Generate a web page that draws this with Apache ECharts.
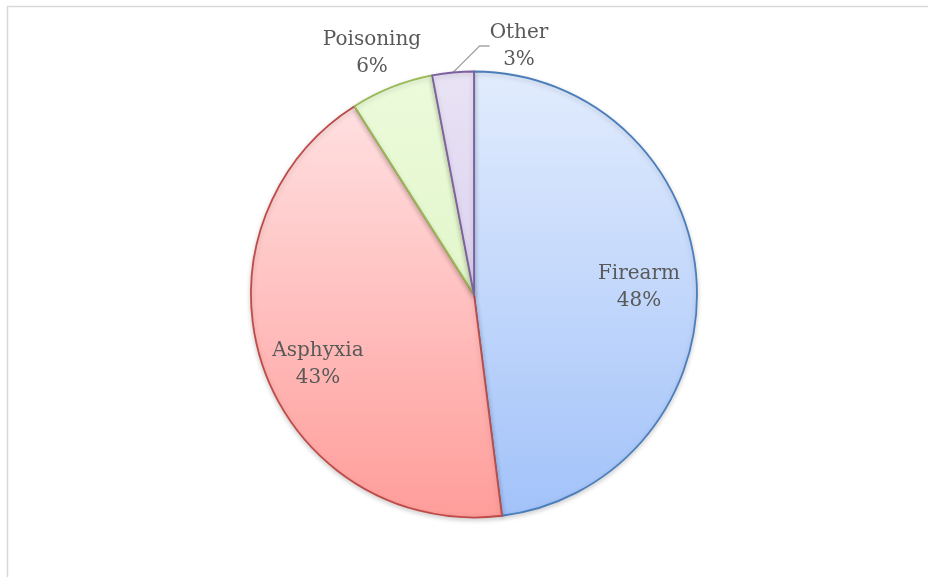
<!DOCTYPE html>
<html>
<head>
<meta charset="utf-8">
<script src="https://cdn.jsdelivr.net/npm/echarts@6/dist/echarts.min.js"></script>
<style>
html,body{margin:0;padding:0;background:#fff;}
#chart{width:928px;height:577px;}
</style>
</head>
<body>
<div id="chart"></div>
<script>
// ---- data ----
const categories = ['Firearm', 'Asphyxia', 'Poisoning', 'Other'];
const values = [48, 43, 6, 3];

// ---- styles ----
const topColors = ['#e2ecfd', '#ffe0e1', '#ecfbdb', '#e9e3f5'];
const bottomColors = ['#a2c2f9', '#ff9d9a', '#e2f6cb', '#dcd2ee'];
const borderColors = ['#4a7ebb', '#be4b48', '#98b954', '#7d60a0'];
// label anchor positions (text centre), in pixels
const labelAnchors = [[639, 287], [318, 364], [372, 53], [519, 46]];

const chart = echarts.init(document.getElementById('chart'), null, {renderer: 'canvas'});

const data = categories.map((name, i) => ({
  name: name,
  value: values[i],
  itemStyle: {
    color: new echarts.graphic.LinearGradient(0, 0, 0, 1, [
      {offset: 0, color: topColors[i]},
      {offset: 1, color: bottomColors[i]}
    ]),
    borderColor: borderColors[i],
    borderWidth: 1.8
  },
  labelLine: {show: i === 3}
}));

chart.setOption({
  animation: false,
  graphic: [{
    type: 'rect',
    shape: {x: 7.5, y: 6.5, width: 940, height: 600},
    style: {fill: 'none', stroke: '#d9d9d9', lineWidth: 1.5},
    silent: true
  }],
  series: [{
    type: 'pie',
    center: [474, 294.5],
    radius: [0, 223],
    startAngle: 90,
    clockwise: true,
    avoidLabelOverlap: false,
    data: data,
    itemStyle: {
      shadowBlur: 5,
      shadowOffsetY: 2,
      shadowColor: 'rgba(0,0,0,0.18)'
    },
    label: {
      show: true,
      position: 'outside',
      formatter: '{b}\n{c}%',
      fontFamily: 'DejaVu Serif',
      fontSize: 20,
      lineHeight: 27,
      color: '#595959',
      align: 'center'
    },
    labelLine: {
      lineStyle: {color: '#a6a6a6', width: 1.3},
      length: 10,
      length2: 10
    },
    labelLayout: function (p) {
      const a = labelAnchors[p.dataIndex];
      return {x: a[0], y: a[1], align: 'center', verticalAlign: 'middle'};
    },
    emphasis: {disabled: true}
  }]
});
</script>
</body>
</html>
